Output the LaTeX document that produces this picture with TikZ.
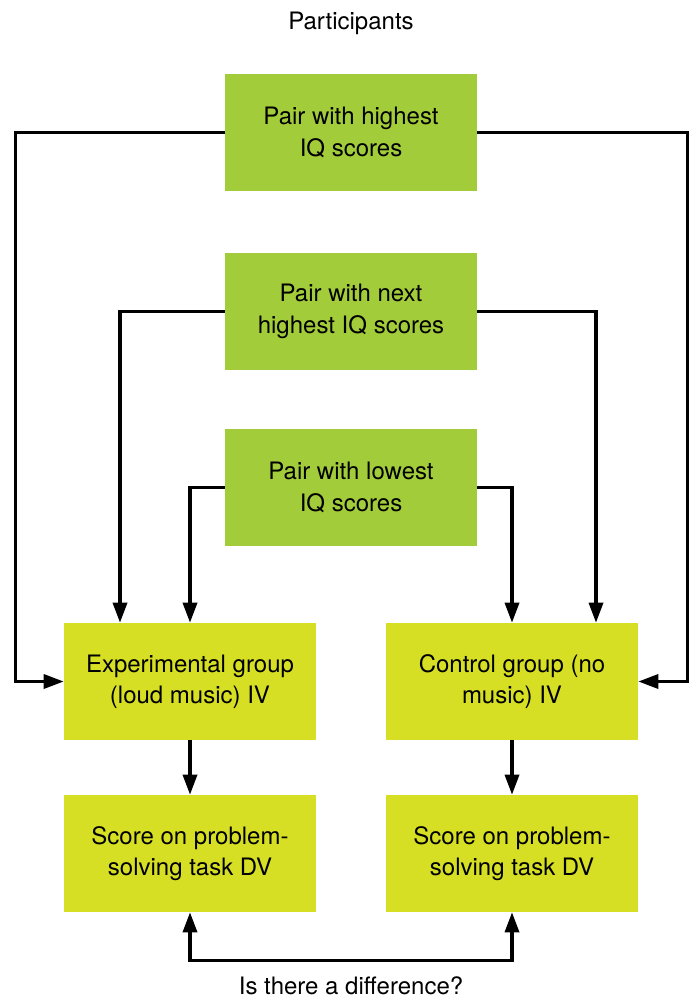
\documentclass[tikz,border=0pt]{standalone}
\usepackage{fontspec}
\setmainfont{TeX Gyre Heros}
\usetikzlibrary{arrows.meta}
\definecolor{pairgreen}{RGB}{162,204,58}
\definecolor{groupyellow}{RGB}{214,223,35}
\tikzset{
  pairbox/.style={fill=pairgreen, minimum width=189pt, minimum height=87.75pt, align=center, inner sep=0pt, font=\fontsize{18}{23.5}\selectfont},
  groupbox/.style={pairbox, fill=groupyellow},
  flow/.style={line width=2.5pt, -{Triangle[length=15pt,width=10.5pt]}},
  label/.style={font=\fontsize{18}{20}\selectfont}
}
\begin{document}
\begin{tikzpicture}[x=0.75pt,y=0.75pt,yscale=-1]
\useasboundingbox (0,0) rectangle (694,998);

% Boxes
\node[label] (title) at (351,23) {Participants};
\node[pairbox] (pair1) at (351,132.5) {Pair with highest\\IQ scores};
\node[pairbox] (pair2) at (351,311.5) {Pair with next\\highest IQ scores};
\node[pairbox] (pair3) at (351,487.5) {Pair with lowest\\IQ scores};
\node[groupbox] (exp) at (190,681.5) {Experimental group\\(loud music) IV};
\node[groupbox] (ctrl) at (512,681.5) {Control group (no\\music) IV};
\node[groupbox] (scoreL) at (190,853.5) {Score on problem-\\solving task DV};
\node[groupbox] (scoreR) at (512,853.5) {Score on problem-\\solving task DV};
\node[label] (diff) at (351,986) {Is there a difference?};

% Connectors
\draw[flow] (pair1.west) -- ++(-209,0) |- (exp.west);
\draw[flow] (pair1.east) -- ++(210,0) |- (ctrl.east);
\draw[flow] (pair2.west) -| ([xshift=-52.5pt]exp.north);
\draw[flow] (pair2.east) -| ([xshift=63pt]ctrl.north);
\draw[flow] (pair3.west) -| (exp.north);
\draw[flow] (pair3.east) -| (ctrl.north);
\draw[flow] (exp) -- (scoreL);
\draw[flow] (ctrl) -- (scoreR);
\draw[flow, {Triangle[length=15pt,width=10.5pt]}-{Triangle[length=15pt,width=10.5pt]}] (scoreL.south) -- ++(0,48) -| (scoreR.south);

\end{tikzpicture}
\end{document}
